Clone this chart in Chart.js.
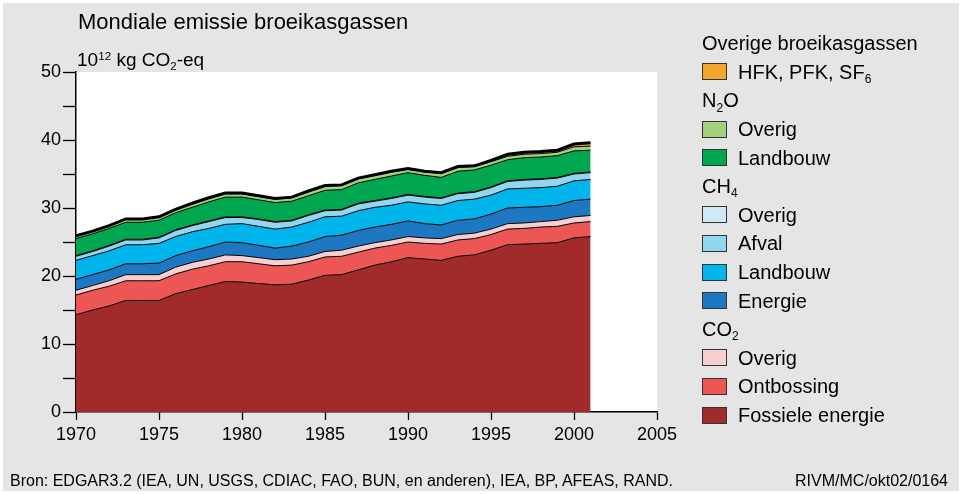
<!DOCTYPE html>
<html>
<head>
<meta charset="utf-8">
<script src="https://cdn.jsdelivr.net/npm/chart.js@4.4.0/dist/chart.umd.min.js"></script>
<style>
    html, body { margin: 0; padding: 0; background: #fff; }
    #wrap { position: relative; width: 962px; height: 494px; overflow: hidden; font-family: "Liberation Sans", Arial, sans-serif; color: #000; }
    #paper { position: absolute; left: 3px; top: 3px; right: 3px; bottom: 3px; background: #e5e5e5; }
    canvas { position: absolute; left: 0; top: 0; }
    .txt { position: absolute; white-space: nowrap; line-height: 1; }
    sub { font-size: 0.6em; vertical-align: baseline; position: relative; top: 0.35em; line-height: 0; }
    sup { font-size: 0.62em; vertical-align: baseline; position: relative; top: -0.55em; line-height: 0; }
    #legend { position: absolute; left: 702px; top: 29px; }
    #legend .row { height: 28.6px; display: flex; align-items: center; font-size: 20px; line-height: 1; }
    #legend .sw { width: 23px; height: 15px; border: 1px solid #333; margin-right: 11px; box-sizing: content-box; }
</style>
</head>
<body>
<div id="wrap">
    <div id="paper"></div>
    <canvas id="emissieChart" width="962" height="494"></canvas>
    <div class="txt" style="left:78px; top:11px; font-size:22px;">Mondiale emissie broeikasgassen</div>
    <div class="txt" style="left:77px; top:50px; font-size:19px;">10<sup>12</sup> kg CO<sub>2</sub>-eq</div>
    <div id="legend"></div>
    <div class="txt" style="left:10px; top:473px; font-size:16px;">Bron: EDGAR3.2 (IEA, UN, USGS, CDIAC, FAO, BUN, en anderen), IEA, BP, AFEAS, RAND.</div>
    <div class="txt" style="right:14px; top:473px; font-size:16px;">RIVM/MC/okt02/0164</div>
</div>
<script>
/* Jaren en emissies (10^12 kg CO2-eq), van onder naar boven gestapeld */
const years = [1970, 1971, 1972, 1973, 1974, 1975, 1976, 1977, 1978, 1979, 1980, 1981, 1982, 1983, 1984, 1985,
               1986, 1987, 1988, 1989, 1990, 1991, 1992, 1993, 1994, 1995, 1996, 1997, 1998, 1999, 2000, 2001];

const co2Fossiel    = [14.3, 15.0, 15.6, 16.4, 16.4, 16.4, 17.4, 18.0, 18.6, 19.2, 19.1, 18.9, 18.7, 18.8, 19.4, 20.1,
                       20.2, 20.9, 21.6, 22.1, 22.7, 22.5, 22.3, 22.9, 23.1, 23.8, 24.6, 24.7, 24.8, 24.9, 25.6, 25.8];
const co2Ontbossing = [2.9, 2.9, 2.9, 2.9, 2.9, 2.9, 2.9, 3.0, 2.9, 2.9, 3.0, 2.9, 2.8, 2.8, 2.7, 2.7,
                       2.7, 2.6, 2.5, 2.4, 2.3, 2.3, 2.4, 2.4, 2.4, 2.3, 2.3, 2.3, 2.4, 2.4, 2.2, 2.2];
const co2Overig     = [0.7, 0.7, 0.8, 0.9, 0.9, 0.9, 1.0, 1.0, 1.0, 1.0, 0.9, 0.9, 0.9, 0.9, 0.8, 0.8,
                       0.9, 0.9, 0.8, 0.8, 0.8, 0.8, 0.8, 0.8, 0.8, 0.8, 0.8, 0.8, 0.8, 0.9, 0.9, 0.9];
const ch4Energie    = [1.6, 1.6, 1.6, 1.6, 1.6, 1.7, 1.7, 1.7, 1.8, 1.9, 1.9, 1.8, 1.7, 1.9, 2.1, 2.2,
                       2.2, 2.3, 2.3, 2.3, 2.3, 2.1, 2.0, 2.1, 2.1, 2.2, 2.3, 2.3, 2.2, 2.2, 2.4, 2.4];
const ch4Landbouw   = [2.8, 2.8, 2.8, 2.8, 2.8, 2.9, 2.8, 2.8, 2.7, 2.6, 2.8, 2.8, 2.8, 2.8, 2.9, 2.9,
                       2.8, 2.9, 2.9, 2.8, 2.8, 2.9, 2.9, 2.9, 2.9, 2.8, 2.8, 2.8, 2.8, 2.8, 2.9, 2.9];
const ch4Afval      = [0.6, 0.6, 0.7, 0.7, 0.7, 0.8, 0.9, 0.9, 1.0, 1.0, 0.9, 1.0, 1.0, 0.9, 1.0, 0.9,
                       0.9, 1.0, 0.9, 1.0, 1.0, 1.0, 1.0, 1.0, 1.0, 1.1, 1.1, 1.2, 1.2, 1.2, 1.0, 1.0];
const ch4Overig     = [0.1, 0.1, 0.1, 0.1, 0.1, 0.1, 0.1, 0.1, 0.1, 0.1, 0.1, 0.1, 0.1, 0.1, 0.1, 0.1,
                       0.1, 0.1, 0.1, 0.1, 0.1, 0.1, 0.1, 0.1, 0.1, 0.1, 0.1, 0.1, 0.1, 0.1, 0.1, 0.1];
const n2oLandbouw   = [2.5, 2.5, 2.5, 2.5, 2.5, 2.5, 2.5, 2.6, 2.8, 2.9, 2.9, 2.8, 2.8, 2.8, 2.8, 2.9,
                       2.9, 3.0, 3.1, 3.2, 3.2, 3.1, 3.0, 3.2, 3.2, 3.2, 3.1, 3.2, 3.2, 3.2, 3.3, 3.2];
const n2oOverig     = [0.4, 0.4, 0.4, 0.5, 0.5, 0.5, 0.5, 0.5, 0.5, 0.5, 0.5, 0.5, 0.5, 0.5, 0.6, 0.6,
                       0.6, 0.6, 0.6, 0.6, 0.5, 0.5, 0.6, 0.6, 0.5, 0.5, 0.5, 0.5, 0.5, 0.5, 0.6, 0.6];
const hfkPfkSf6     = [0.0, 0.0, 0.0, 0.0, 0.0, 0.0, 0.0, 0.1, 0.1, 0.1, 0.1, 0.1, 0.1, 0.1, 0.1, 0.1,
                       0.1, 0.1, 0.1, 0.1, 0.1, 0.1, 0.1, 0.1, 0.1, 0.2, 0.3, 0.3, 0.3, 0.3, 0.4, 0.5];

const xTicks = [1970, 1975, 1980, 1985, 1990, 1995, 2000, 2005];
const yTicks = [0, 10, 20, 30, 40, 50];

/* reeksen: label, groep (gas), kleur */
const series = [
    { label: 'Fossiele energie', gas: 'CO2', color: '#a12b2a', data: co2Fossiel },
    { label: 'Ontbossing',       gas: 'CO2', color: '#ec5755', data: co2Ontbossing },
    { label: 'Overig',           gas: 'CO2', color: '#f6d0d0', data: co2Overig },
    { label: 'Energie',          gas: 'CH4', color: '#1d78c1', data: ch4Energie },
    { label: 'Landbouw',         gas: 'CH4', color: '#00b4ec', data: ch4Landbouw },
    { label: 'Afval',            gas: 'CH4', color: '#93d6f0', data: ch4Afval },
    { label: 'Overig',           gas: 'CH4', color: '#ceeaf6', data: ch4Overig },
    { label: 'Landbouw',         gas: 'N2O', color: '#00a650', data: n2oLandbouw },
    { label: 'Overig',           gas: 'N2O', color: '#a2d17c', data: n2oOverig },
    { label: 'HFK, PFK, SF6',    gas: 'Overige broeikasgassen', color: '#f4a52c', data: hfkPfkSf6 },
];

const withSub = (s) => s.replace(/([A-Z])(\d)/g, '$1<sub>$2</sub>');

/* witte plotachtergrond */
const plotBackground = {
    id: 'plotBackground',
    beforeDraw(chart) {
        const { ctx, chartArea: a } = chart;
        ctx.save();
        ctx.fillStyle = '#fff';
        ctx.fillRect(a.left, a.top, a.right - a.left, a.bottom - a.top);
        ctx.restore();
    }
};

Chart.defaults.font.family = '"Liberation Sans", Arial, sans-serif';
Chart.defaults.color = '#000';

new Chart(document.getElementById('emissieChart').getContext('2d'), {
    type: 'line',
    data: {
        datasets: series.map((s, i) => ({
            label: s.label,
            data: years.map((yr, k) => ({ x: yr, y: s.data[k] })),
            backgroundColor: s.color,
            borderColor: '#000',
            borderWidth: i === series.length - 1 ? 3 : 1,
            pointRadius: 0,
            tension: 0,
            fill: i === 0 ? 'origin' : '-1',
        })),
    },
    options: {
        responsive: false,
        animation: false,
        layout: { padding: { left: 0, top: 72, right: 305, bottom: 0 } },
        plugins: {
            legend: { display: false },
            tooltip: { enabled: false },
            filler: { drawTime: 'beforeDatasetsDraw' },
        },
        scales: {
            x: {
                type: 'linear',
                min: 1970,
                max: 2005,
                afterFit: (scale) => { scale.height = 82; },
                afterBuildTicks: (scale) => { scale.ticks = xTicks.map((v) => ({ value: v })); },
                ticks: { font: { size: 18 }, padding: 4, maxRotation: 0, callback: (v) => String(v) },
                grid: { drawOnChartArea: false, tickLength: 8, tickColor: '#000', tickWidth: 1.3 },
                border: { display: true, color: '#000', width: 1.5 },
            },
            y: {
                stacked: true,
                min: 0,
                max: 50,
                afterFit: (scale) => { scale.width = 76; },
                ticks: {
                    stepSize: 5,
                    font: { size: 18 },
                    padding: 2,
                    callback: (v) => (yTicks.includes(v) ? String(v) : ''),
                },
                grid: { drawOnChartArea: false, tickLength: 13, tickColor: '#000', tickWidth: 1.3 },
                border: { display: true, color: '#000', width: 1.5 },
            },
        },
    },
    plugins: [plotBackground],
});

/* legenda met gasgroepen, bovenste laag eerst */
function buildLegend() {
    const el = document.getElementById('legend');
    let html = '';
    let lastGas = null;
    [...series].reverse().forEach((s) => {
        if (s.gas !== lastGas) {
            html += `<div class="row"><span>${withSub(s.gas)}</span></div>`;
            lastGas = s.gas;
        }
        html += `<div class="row"><span class="sw" style="background:${s.color}"></span><span>${withSub(s.label)}</span></div>`;
    });
    el.innerHTML = html;
}
buildLegend();
</script>
</body>
</html>
